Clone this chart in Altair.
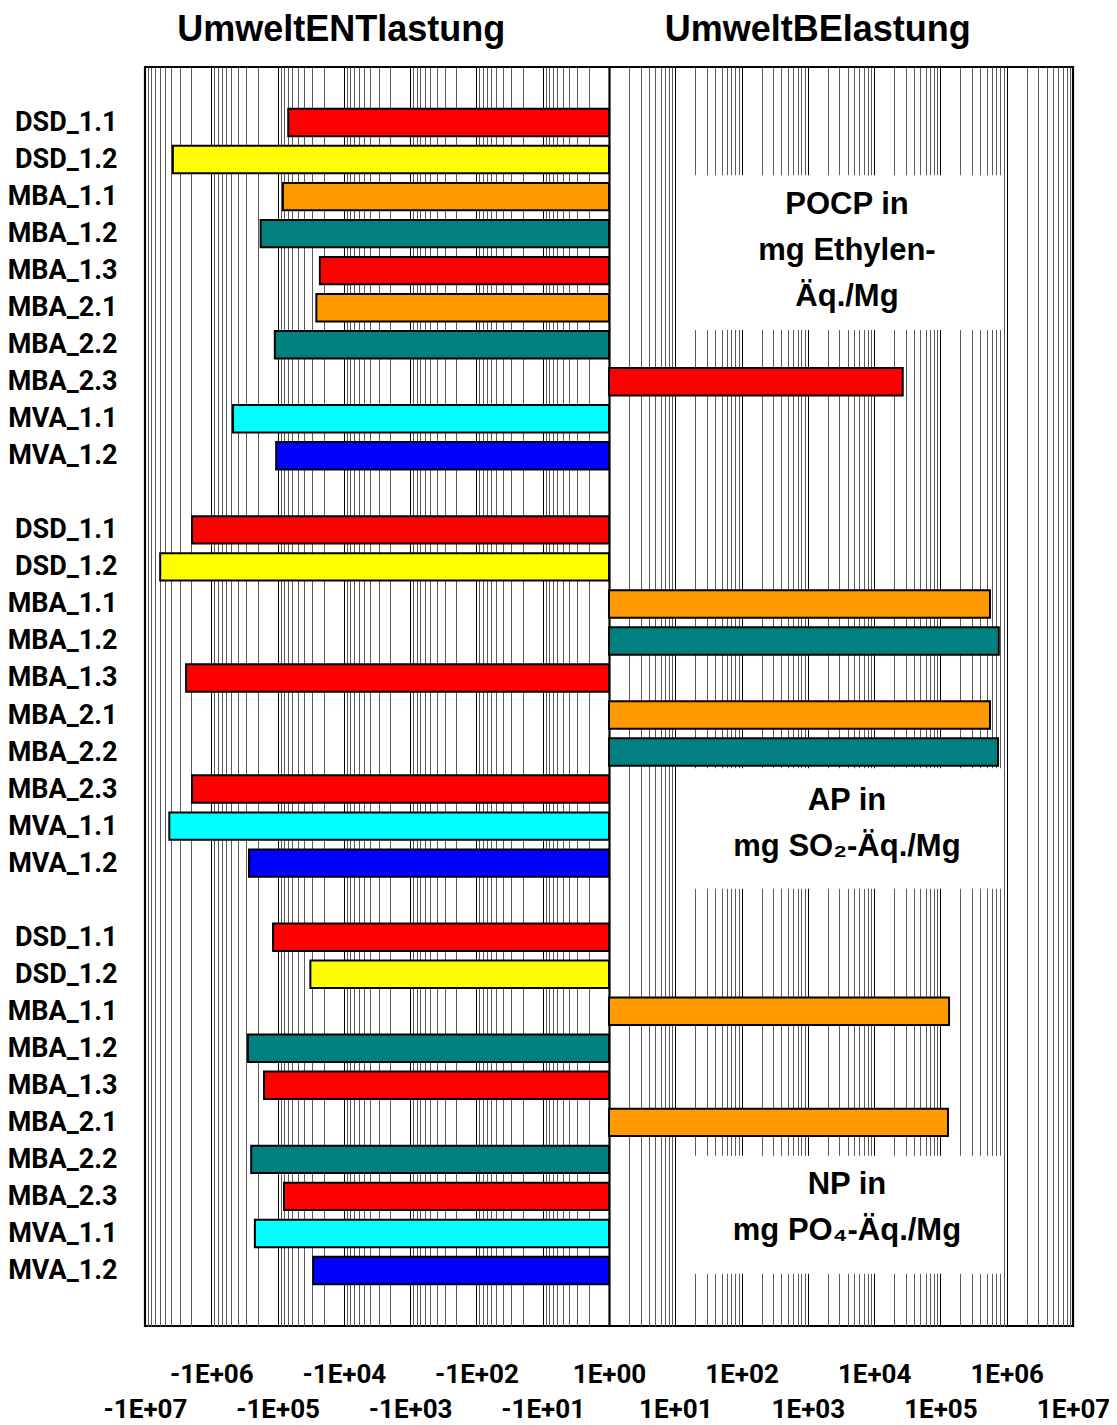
import json
import numpy as np
import pandas as pd
import altair as alt

# ---------------- data ----------------
categories = ["DSD_1.1", "DSD_1.2", "MBA_1.1", "MBA_1.2", "MBA_1.3",
              "MBA_2.1", "MBA_2.2", "MBA_2.3", "MVA_1.1", "MVA_1.2"]
bar_colors = ["#FF0000", "#FFFF00", "#FF9900", "#008080", "#FF0000",
              "#FF9900", "#008080", "#FF0000", "#00FFFF", "#0000FF"]
groups = ["POCP", "AP", "NP"]

pocp_values = [-6.9e4, -3.8e6, -8.3e4, -1.8e5, -2.3e4, -2.6e4, -1.1e5, 2.7e4, -4.7e5, -1.05e5]
ap_values = [-1.95e6, -5.9e6, 5.6e5, 7.6e5, -2.4e6, 5.6e5, 7.4e5, -1.95e6, -4.3e6, -2.7e5]
np_values = [-1.17e5, -3.2e4, 1.35e5, -2.8e5, -1.6e5, 1.3e5, -2.5e5, -8.0e4, -2.2e5, -2.9e4]

headings = ["UmweltENTlastung", "UmweltBElastung"]
box_texts = ["POCP in\nmg Ethylen-\nÄq./Mg", "AP in\nmg SO₂-Äq./Mg", "NP in\nmg PO₄-Äq./Mg"]

# ---------------- table ----------------
records = []
for g, vals in enumerate([pocp_values, ap_values, np_values]):
    for i, (c, v) in enumerate(zip(categories, vals)):
        records.append({"group": groups[g], "cat": c, "value": v, "row": g * 11 + i})
df = pd.DataFrame(records)

# annotation placement (in decades / row units)
box_df = pd.DataFrame({
    "x1": [1.03, 1.03, 1.03], "x2": [5.93, 5.93, 5.93],
    "yt": [1.42, 17.44, 27.9], "yb": [5.6, 20.69, 31.09],
    "tx": [3.59, 3.59, 3.59], "ty": [2.23, 18.31, 28.69],
    "text": box_texts,
})
head_df = pd.DataFrame({"x": [-4.04, 3.15], "y": [-2.2, -2.2], "text": headings})

# ---------------- scales / axes ----------------
grid_vals = sorted(set(
    [round(s * (d + np.log10(k)), 6) for d in range(7) for k in range(1, 10) for s in (1, -1)]
    + [7.0, -7.0]
))

lab = "(datum.value < 0 ? '-' : '') + '1E+0' + round(abs(datum.value))"
x_label_expr = (
    "abs(datum.value - round(datum.value)) > 0.000001 ? '' : "
    f"(round(abs(datum.value)) % 2 == 0 ? {lab} : ['', {lab}])"
)
is_decade = "abs(datum.value - round(datum.value)) < 0.000001"

NARROW = "Roboto, Liberation Sans, sans-serif"
BOLD = "Liberation Sans, Arial, sans-serif"

xscale = alt.Scale(domain=[-7, 7], nice=False, zero=False)
yscale = alt.Scale(domain=[-1.5, 32.5], reverse=True, nice=False, zero=False)

xaxis = alt.Axis(
    title=None, values=grid_vals, grid=True, gridOpacity=1,
    gridColor={"condition": {"test": is_decade, "value": "#000000"}, "value": "#5a5a5a"},
    gridWidth={"condition": {"test": "datum.value == 0", "value": 2.2}, "value": 1},
    ticks=False, domain=False, labelExpr=x_label_expr, labelOverlap=False,
    labelFlush=False, labelBound=False, labelFont=NARROW, labelFontSize=26,
    labelFontWeight="bold", labelColor="black", labelPadding=35,
    labelLineHeight=35, labelAlign="center", labelBaseline="top",
)
row_vals = [g * 11 + i for g in range(3) for i in range(10)]
yaxis = alt.Axis(
    title=None, values=row_vals, grid=False, ticks=False, domain=False,
    labelExpr=f"{json.dumps(categories)}[round(datum.value) % 11]",
    labelOverlap=False, labelFlush=False, labelFont=NARROW, labelFontSize=27,
    labelFontWeight="bold", labelColor="black", labelPadding=28,
    labelAlign="right", labelBaseline="middle",
)

# ---------------- layers ----------------
bars = alt.Chart(df).transform_calculate(
    pos="(datum.value < 0 ? -1 : 1) * log(abs(datum.value)) / LN10",
    base="0",
    ytop="datum.row - 0.37",
    ybot="datum.row + 0.37",
).mark_rect(stroke="black", strokeWidth=2).encode(
    x=alt.X("pos:Q", scale=xscale, axis=xaxis),
    x2="base:Q",
    y=alt.Y("ytop:Q", scale=yscale, axis=yaxis),
    y2="ybot:Q",
    color=alt.Color("cat:N", scale=alt.Scale(domain=categories, range=bar_colors), legend=None),
)

boxes = alt.Chart(box_df).mark_rect(color="white", opacity=1).encode(
    x=alt.X("x1:Q", scale=xscale, axis=xaxis),
    x2="x2:Q",
    y=alt.Y("yt:Q", scale=yscale, axis=yaxis),
    y2="yb:Q",
)

box_text = alt.Chart(box_df).mark_text(
    font=BOLD, fontSize=31, fontWeight="bold", color="black",
    lineBreak="\n", lineHeight=46, align="center", baseline="middle",
).encode(
    x=alt.X("tx:Q", scale=xscale, axis=xaxis),
    y=alt.Y("ty:Q", scale=yscale, axis=yaxis),
    text="text:N",
)

heads = alt.Chart(head_df).mark_text(
    font=BOLD, fontSize=36, fontWeight="bold", color="black",
    align="center", baseline="alphabetic",
).encode(
    x=alt.X("x:Q", scale=xscale, axis=xaxis),
    y=alt.Y("y:Q", scale=yscale, axis=yaxis),
    text="text:N",
)

chart = alt.layer(bars, boxes, box_text, heads).properties(
    width=928, height=1259,
    autosize=alt.AutoSizeParams(type="none"),
    padding={"left": 137, "top": 59, "right": 36, "bottom": 96},
    background="white",
).configure_view(stroke="black", strokeWidth=2.2)

chart.save("out.html", embed_options={"renderer": "svg", "actions": False})
